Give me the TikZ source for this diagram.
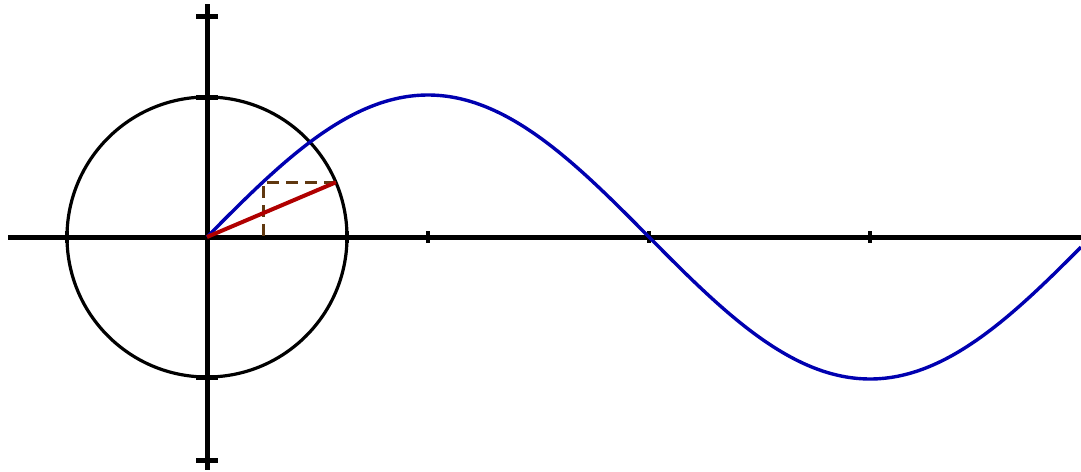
\documentclass[tikz,border=0pt]{standalone}
\definecolor{sineblue}{RGB}{0,0,176}
\definecolor{radred}{RGB}{176,0,0}
\definecolor{projbrown}{RGB}{96,56,16}
\tikzset{
  axis/.style={line width=2.5pt, black},
  tickx/.style={line width=2pt, black},
  ticky/.style={line width=2.5pt, black},
  circ/.style={line width=1.6pt, black},
  sine/.style={line width=1.7pt, sineblue},
  radius line/.style={line width=2pt, radred},
  proj/.style={line width=1.8pt, projbrown, dash pattern=on 6pt off 3.5pt},
}
\begin{document}
\begin{tikzpicture}[x=0.5pt,y=-0.5pt]
\useasboundingbox (0,0) rectangle (1081,471);
% key points
\coordinate (O) at (207,237);
\coordinate (xl) at (8,237);
\coordinate (xr) at (1081,237);
\coordinate (yt) at (207,4);
\coordinate (yb) at (207,470);
% axes
\draw[axis] (xl) -- (xr);
\draw[axis] (yt) -- (yb);
% x ticks
\foreach \t in {67,347,428,649,870}{
  \draw[tickx] (\t,231) -- (\t,243);
}
% y ticks
\foreach \t in {16,97,377,460}{
  \draw[ticky] (196,\t) -- (218,\t);
}
% unit circle
\draw[circ] (O) circle[radius=140];
% sine curve
\draw[sine] plot[domain=0:874, samples=220, smooth] ({207+\x},{237-142*sin(0.40724*\x)});
% angle point on circle, matching sine point, and foot
\coordinate (P) at ({207+140*cos(23)},{237-140*sin(23)});
\coordinate (S) at ({207+56.48},{237-140*sin(23)});
\coordinate (F) at ({207+56.48},237);
\draw[proj] (P) -- (S) -- (F);
\draw[radius line] (O) -- (P);
\end{tikzpicture}
\end{document}
